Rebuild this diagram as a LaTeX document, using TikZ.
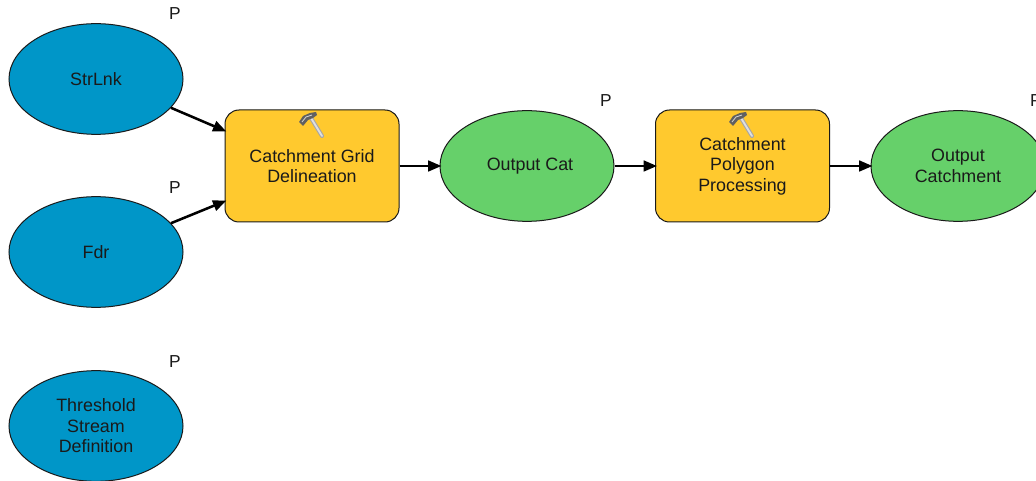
\documentclass[tikz,border=0pt]{standalone}
\usepackage{fontspec}
\setmainfont{Liberation Sans}
\usetikzlibrary{shapes.geometric,arrows.meta}
\definecolor{inblue}{HTML}{0096C8}
\definecolor{outgreen}{HTML}{66D06A}
\definecolor{toolyellow}{HTML}{FFC92E}
\definecolor{ink}{HTML}{1A1A1A}
\tikzset{
  x=0.75pt,y=-0.75pt,
  lab/.style={font=\fontsize{13.4pt}{15.4pt}\selectfont,text=ink,align=center},
  oval/.style={ellipse,draw=ink,line width=0.75pt,minimum width=130.5pt,minimum height=83pt,inner sep=0pt,lab},
  inputoval/.style={oval,fill=inblue},
  outputoval/.style={oval,fill=outgreen},
  toolbox/.style={rectangle,rounded corners=10.5pt,draw=ink,line width=0.75pt,fill=toolyellow,minimum width=130.5pt,minimum height=84pt,inner sep=0pt,lab},
  flag/.style={font=\fontsize{13pt}{14pt}\selectfont,text=ink,inner sep=0pt},
  flow/.style={-{Triangle[length=10pt,width=8pt]},line width=1.9pt,black,shorten >=-1.5pt},
}
\newcommand{\hammericon}[2]{%
  \begin{scope}[shift={(#1,#2)}]
    \draw[line width=3pt,color=gray!70,line cap=round] (-1,-7) -- (10,11);
    \draw[line width=1.4pt,color=gray!25,line cap=round] (-1,-7) -- (10,11);
    \fill[gray!75!black] (-13,-3) -- (-9,-9) -- (-2,-12) -- (4,-13) -- (5,-10) -- (1,-7) -- (-4,-5) -- (-9,1) -- cycle;
    \draw[gray!35,line width=0.6pt] (-10,-3) -- (-6,-8) -- (0,-10);
  \end{scope}}
\begin{document}
\begin{tikzpicture}
\useasboundingbox (0,0) rectangle (1036,481);
\clip (0,0) rectangle (1036,481);
\fill[white] (0,0) rectangle (1036,481);
\node[inputoval] (str) at (96,79) {StrLnk};
\node[inputoval] (fdr) at (96,252) {Fdr};
\node[inputoval] (thr) at (96,426) {Threshold\\Stream\\Definition};
\node[toolbox] (grid) at (312,166) {Catchment Grid\\Delineation};
\node[outputoval] (cat) at (527,166) {\hspace*{4.5pt}Output Cat};
\node[toolbox] (poly) at (742.5,166) {Catchment\\Polygon\\Processing};
\node[outputoval] (catch) at (958,166) {Output\\Catchment};
\node[flag] (p1) at (175,14) {P};
\node[flag] (p2) at (175,188) {P};
\node[flag] (p3) at (175,362) {P};
\node[flag] (p4) at (606,101) {P};
\node[flag] (p5) at (1036,101) {P};
\hammericon{312}{125}
\hammericon{742}{125}
\draw[flow] (str.-21) -- (grid.158);
\draw[flow] (fdr.21) -- (grid.202);
\draw[flow] (grid) -- (cat);
\draw[flow] (cat) -- (poly);
\draw[flow] (poly) -- (catch);
\end{tikzpicture}
\end{document}
